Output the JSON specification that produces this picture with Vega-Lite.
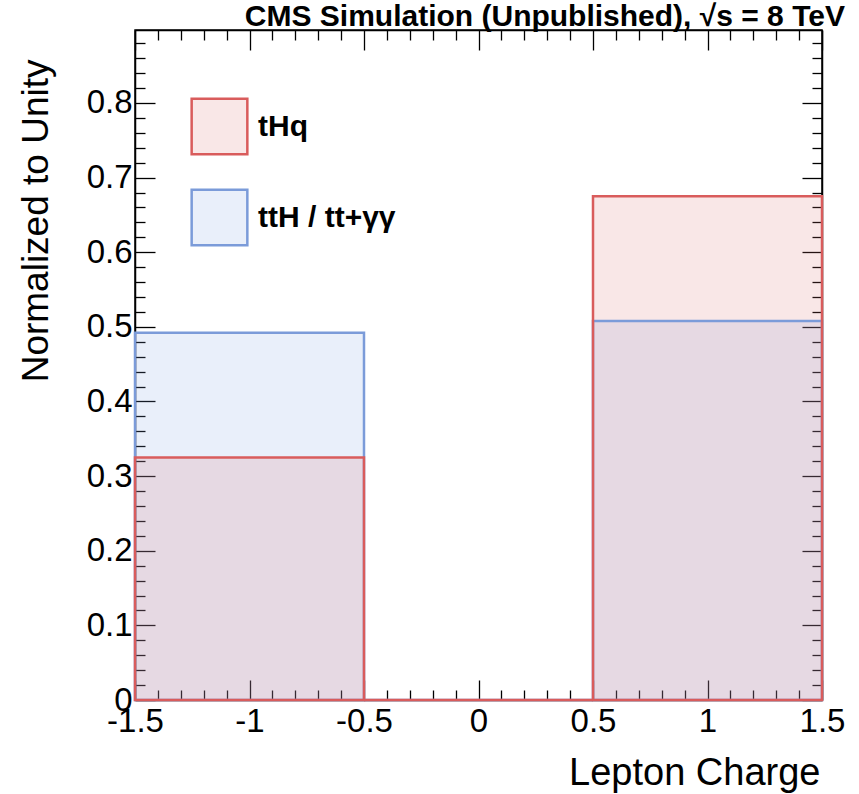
{
  "$schema": "https://vega.github.io/schema/vega-lite/v6.json",
  "width": 687,
  "height": 670,
  "autosize": {"type": "none"},
  "padding": {"left": 135, "top": 30, "right": 37, "bottom": 94},
  "background": "white",
  "config": {
    "font": "Liberation Sans",
    "view": {"stroke": "black", "strokeWidth": 1.5},
    "axis": {"grid": false, "domainColor": "black", "domainWidth": 1.5, "tickColor": "black", "tickWidth": 1.3, "labelColor": "black", "titleColor": "black", "labelFlush": false, "labelOverlap": false, "labelBound": false, "titleFontWeight": "normal"}
  },
  "title": {"text": "CMS Simulation (Unpublished),  √s = 8 TeV", "anchor": "end", "fontSize": 30, "fontWeight": "bold", "baseline": "alphabetic", "offset": 3, "dy": 32, "color": "black"},
  "data": {"values": [
    {"process": "ttH / tt+γγ", "lo": -1.5, "hi": -0.5, "frac": 0.492},
    {"process": "ttH / tt+γγ", "lo": -0.5, "hi": 0.5, "frac": 0},
    {"process": "ttH / tt+γγ", "lo": 0.5, "hi": 1.5, "frac": 0.508},
    {"process": "tHq", "lo": -1.5, "hi": -0.5, "frac": 0.325},
    {"process": "tHq", "lo": -0.5, "hi": 0.5, "frac": 0},
    {"process": "tHq", "lo": 0.5, "hi": 1.5, "frac": 0.675}
  ]},
  "layer": [
    {
      "mark": {"type": "rect", "fillOpacity": 0.17, "strokeWidth": 0},
      "encoding": {
        "x": {"field": "lo", "type": "quantitative", "scale": {"domain": [-1.5, 1.5], "nice": false, "zero": false},
          "axis": {"orient": "bottom", "values": [-1.5,-1.4,-1.3,-1.2,-1.1,-1,-0.9,-0.8,-0.7,-0.6,-0.5,-0.4,-0.3,-0.2,-0.1,0,0.1,0.2,0.3,0.4,0.5,0.6,0.7,0.8,0.9,1,1.1,1.2,1.3,1.4,1.5],
            "tickSize": {"condition": {"test": "abs(datum.value*2-round(datum.value*2))<1e-6", "value": -20}, "value": -10},
            "labelExpr": "abs(datum.value*2-round(datum.value*2))<1e-6 ? ((datum.value < -1e-9 ? '-' : '') + format(abs(datum.value), '~g')) : ''",
            "labelFontSize": 33, "labelPadding": 25,
            "title": "Lepton Charge", "titleFontSize": 38, "titleAnchor": "end", "titleAlign": "right", "titleX": 685, "titleY": 84, "titleBaseline": "alphabetic"}},
        "x2": {"field": "hi"},
        "y": {"field": "frac", "type": "quantitative", "scale": {"domain": [0, 0.8978], "nice": false},
          "axis": {"orient": "left", "values": [0,0.02,0.04,0.06,0.08,0.1,0.12,0.14,0.16,0.18,0.2,0.22,0.24,0.26,0.28,0.3,0.32,0.34,0.36,0.38,0.4,0.42,0.44,0.46,0.48,0.5,0.52,0.54,0.56,0.58,0.6,0.62,0.64,0.66,0.68,0.7,0.72,0.74,0.76,0.78,0.8,0.82,0.84,0.86,0.88],
            "tickSize": {"condition": {"test": "abs(datum.value*10-round(datum.value*10))<1e-6", "value": -20}, "value": -10},
            "labelExpr": "abs(datum.value*10-round(datum.value*10))<1e-6 ? format(datum.value, '~g') : ''",
            "labelFontSize": 33, "labelPadding": 23,
            "title": "Normalized to Unity", "titleFontSize": 37, "titleAngle": -90, "titleAlign": "right", "titleX": -88, "titleY": 29, "titleBaseline": "alphabetic"}},
        "y2": {"datum": 0},
        "fill": {"field": "process", "type": "nominal", "scale": {"domain": ["tHq", "ttH / tt+γγ"], "range": ["#dc7070", "#7fa2e0"]},
          "legend": {"orient": "none", "legendX": 55, "legendY": 67, "title": null, "symbolType": "square", "symbolSize": 3100, "symbolStrokeWidth": 2.5, "labelFontSize": 30, "labelFontWeight": "bold", "labelOffset": 9, "rowPadding": 24, "padding": 0, "labelColor": "black",
            "encode": {"symbols": {"update": {"fillOpacity": {"value": 0.17}}}}}}
      }
    },
    {
      "mark": {"type": "rect", "filled": false, "strokeWidth": 2.5},
      "encoding": {
        "x": {"field": "lo", "type": "quantitative", "scale": {"domain": [-1.5, 1.5], "nice": false, "zero": false},
          "axis": {"orient": "top", "values": [-1.5,-1.4,-1.3,-1.2,-1.1,-1,-0.9,-0.8,-0.7,-0.6,-0.5,-0.4,-0.3,-0.2,-0.1,0,0.1,0.2,0.3,0.4,0.5,0.6,0.7,0.8,0.9,1,1.1,1.2,1.3,1.4,1.5],
            "tickSize": {"condition": {"test": "abs(datum.value*2-round(datum.value*2))<1e-6", "value": -20}, "value": -10},
            "labels": false, "title": null}},
        "x2": {"field": "hi"},
        "y": {"field": "frac", "type": "quantitative", "scale": {"domain": [0, 0.8978], "nice": false},
          "axis": {"orient": "right", "values": [0,0.02,0.04,0.06,0.08,0.1,0.12,0.14,0.16,0.18,0.2,0.22,0.24,0.26,0.28,0.3,0.32,0.34,0.36,0.38,0.4,0.42,0.44,0.46,0.48,0.5,0.52,0.54,0.56,0.58,0.6,0.62,0.64,0.66,0.68,0.7,0.72,0.74,0.76,0.78,0.8,0.82,0.84,0.86,0.88],
            "tickSize": {"condition": {"test": "abs(datum.value*10-round(datum.value*10))<1e-6", "value": -20}, "value": -10},
            "labels": false, "title": null}},
        "y2": {"datum": 0},
        "stroke": {"field": "process", "type": "nominal", "scale": {"domain": ["tHq", "ttH / tt+γγ"], "range": ["#d95c5c", "#7b9bd9"]},
          "legend": {"orient": "none", "legendX": 55, "legendY": 67, "title": null, "symbolType": "square", "symbolSize": 3100, "symbolStrokeWidth": 2.5, "labelFontSize": 30, "labelFontWeight": "bold", "labelOffset": 9, "rowPadding": 24, "padding": 0, "labelColor": "black",
            "encode": {"symbols": {"update": {"fillOpacity": {"value": 0.17}}}}}}
      }
    }
  ],
  "resolve": {"scale": {"x": "independent", "y": "independent"}}
}
